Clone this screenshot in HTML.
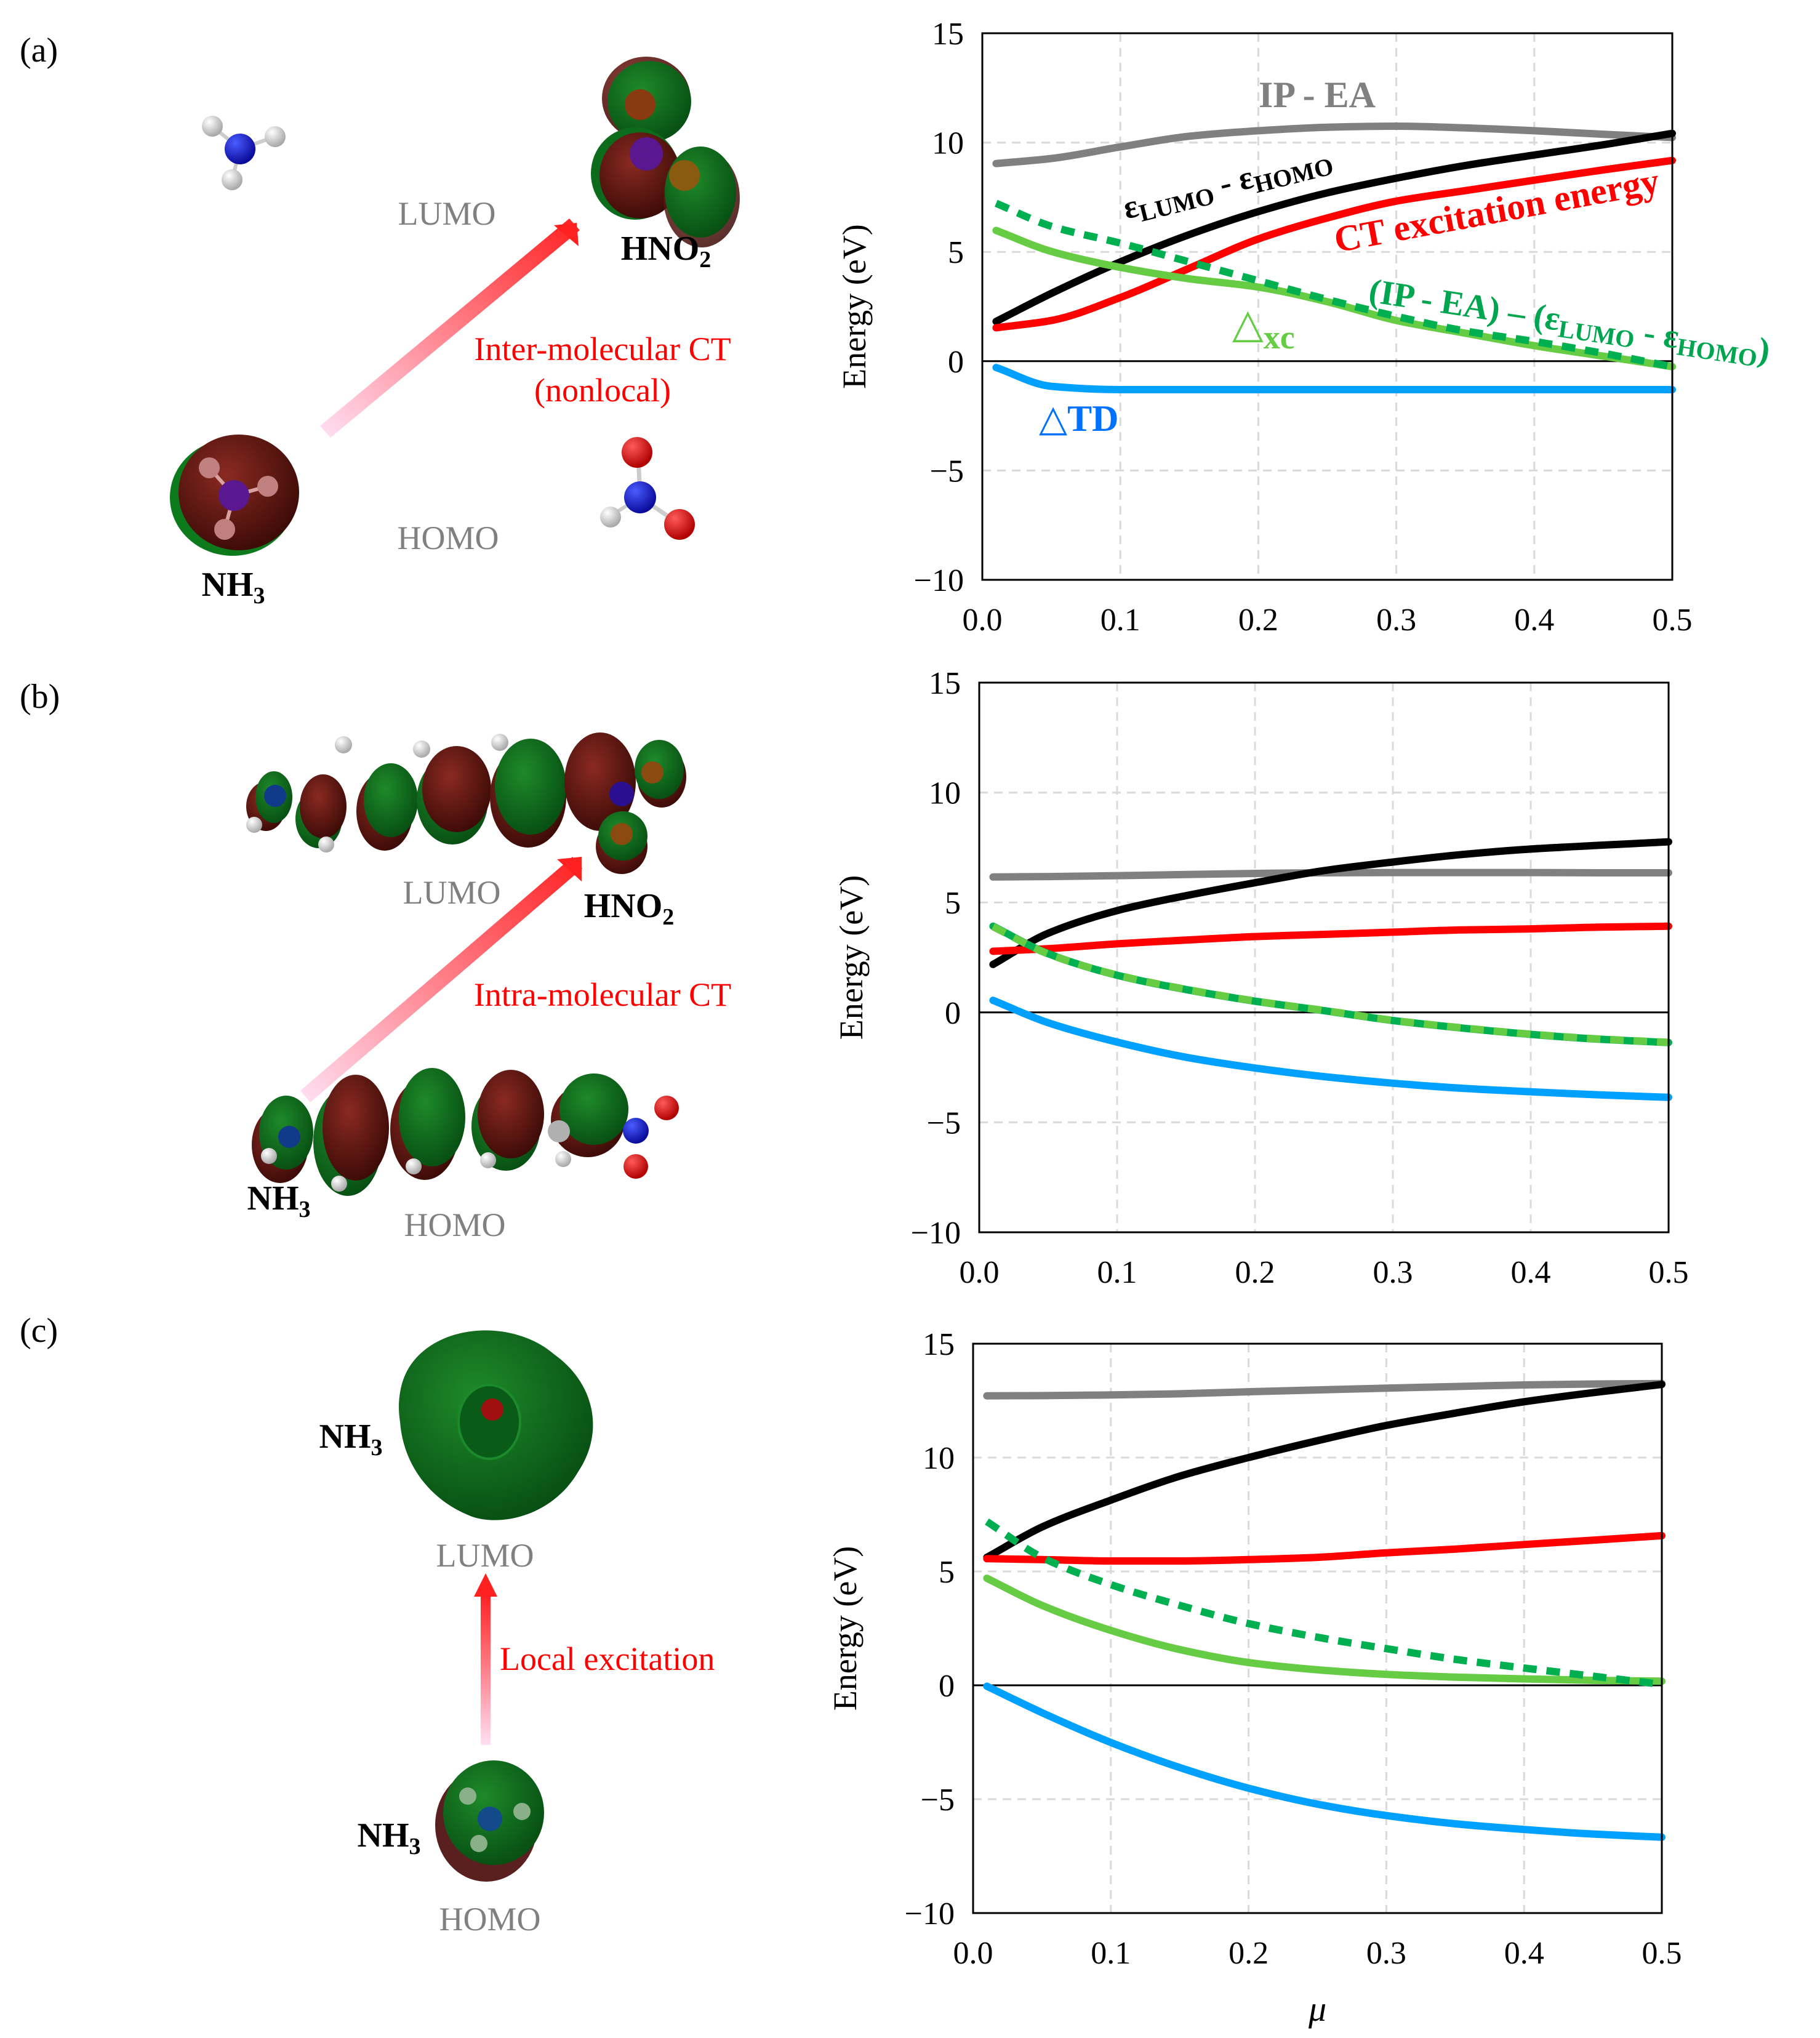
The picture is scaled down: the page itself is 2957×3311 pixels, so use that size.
<!DOCTYPE html>
<html><head><meta charset="utf-8"><style>
html,body{margin:0;padding:0;background:#fff;}
svg{display:block;font-family:"Liberation Serif","DejaVu Serif",serif;}
</style></head><body>
<svg id="fig" width="2957" height="3311" viewBox="0 0 2957 3311" xmlns="http://www.w3.org/2000/svg">
<defs>
<linearGradient id="arrA" x1="0" y1="1" x2="1" y2="0"><stop offset="0" stop-color="#ffe0f4"/><stop offset="1" stop-color="#ff2020"/></linearGradient>
<linearGradient id="arrC" x1="0" y1="1" x2="0" y2="0"><stop offset="0" stop-color="#ffe0f4"/><stop offset="1" stop-color="#ff2020"/></linearGradient>
<radialGradient id="gG" cx="0.4" cy="0.35" r="0.7"><stop offset="0" stop-color="#1f8a2a"/><stop offset="1" stop-color="#064d12"/></radialGradient>
<radialGradient id="gR" cx="0.4" cy="0.35" r="0.7"><stop offset="0" stop-color="#8a2a22"/><stop offset="1" stop-color="#3a0a06"/></radialGradient>
<radialGradient id="gB" cx="0.35" cy="0.3" r="0.7"><stop offset="0" stop-color="#4a5cff"/><stop offset="1" stop-color="#0a0a9a"/></radialGradient>
<radialGradient id="gO" cx="0.35" cy="0.3" r="0.7"><stop offset="0" stop-color="#ff5a5a"/><stop offset="1" stop-color="#b00000"/></radialGradient>
<radialGradient id="gH" cx="0.35" cy="0.3" r="0.7"><stop offset="0" stop-color="#ffffff"/><stop offset="1" stop-color="#a8a8a8"/></radialGradient>
</defs>

<!-- ===== Panel (a) left ===== -->
<g>
<text x="32" y="100" font-size="56">(a)</text>
<g>
<line x1="390" y1="242" x2="345" y2="205" stroke="#ccc" stroke-width="6"/>
<line x1="390" y1="242" x2="447" y2="222" stroke="#ccc" stroke-width="6"/>
<line x1="390" y1="242" x2="377" y2="292" stroke="#ccc" stroke-width="6"/>
<circle cx="345" cy="205" r="17" fill="url(#gH)"/><circle cx="447" cy="222" r="17" fill="url(#gH)"/><circle cx="377" cy="292" r="17" fill="url(#gH)"/>
<circle cx="390" cy="242" r="25" fill="url(#gB)"/>
</g>
<g>
<ellipse cx="1050" cy="160" rx="72" ry="68" fill="url(#gR)" opacity="0.9"/>
<ellipse cx="1055" cy="165" rx="68" ry="66" fill="url(#gG)"/>
<circle cx="1040" cy="170" r="25" fill="#8a3a10"/>
<ellipse cx="1032" cy="282" rx="72" ry="75" fill="#0d6b1c"/>
<ellipse cx="1040" cy="285" rx="66" ry="70" fill="url(#gR)"/>
<ellipse cx="1140" cy="322" rx="62" ry="80" fill="url(#gR)" opacity="0.85"/>
<ellipse cx="1138" cy="312" rx="58" ry="74" fill="url(#gG)"/>
<circle cx="1112" cy="285" r="25" fill="#8a5a10"/>
<circle cx="1050" cy="250" r="27" fill="#5a1890"/>
</g>
<text x="1082" y="422" font-size="56" font-weight="bold" text-anchor="middle">HNO<tspan font-size="38" dy="12">2</tspan></text>
<text x="726" y="365" font-size="54" fill="#808080" text-anchor="middle">LUMO</text>
<polygon points="520,692 925,355 942,374 537,711" fill="url(#arrA)"/>
<polygon points="937,362 900,366 940,400" fill="#ff2020"/>
<text x="979" y="585" font-size="54" fill="#ff0000" text-anchor="middle">Inter-molecular CT</text>
<text x="979" y="652" font-size="54" fill="#ff0000" text-anchor="middle">(nonlocal)</text>
<g>
<ellipse cx="378" cy="808" rx="102" ry="95" fill="#0d7a1c"/>
<ellipse cx="388" cy="800" rx="98" ry="94" fill="url(#gR)"/>
<line x1="380" y1="805" x2="340" y2="760" stroke="#d9a0a0" stroke-width="6"/>
<line x1="380" y1="805" x2="435" y2="790" stroke="#d9a0a0" stroke-width="6"/>
<line x1="380" y1="805" x2="365" y2="860" stroke="#d9a0a0" stroke-width="6"/>
<circle cx="340" cy="760" r="17" fill="#c08080"/><circle cx="435" cy="790" r="17" fill="#c08080"/><circle cx="365" cy="860" r="17" fill="#c08080"/>
<circle cx="380" cy="805" r="25" fill="#5a1890"/>
</g>
<text x="379" y="968" font-size="56" font-weight="bold" text-anchor="middle">NH<tspan font-size="38" dy="12">3</tspan></text>
<text x="728" y="892" font-size="54" fill="#808080" text-anchor="middle">HOMO</text>
<g>
<line x1="1040" y1="808" x2="1037" y2="740" stroke="#ccc" stroke-width="7"/>
<line x1="1040" y1="808" x2="1102" y2="850" stroke="#ccc" stroke-width="7"/>
<line x1="1040" y1="808" x2="992" y2="838" stroke="#ccc" stroke-width="6"/>
<circle cx="1035" cy="735" r="25" fill="url(#gO)"/><circle cx="1104" cy="852" r="25" fill="url(#gO)"/><circle cx="992" cy="840" r="17" fill="url(#gH)"/>
<circle cx="1040" cy="808" r="26" fill="url(#gB)"/>
</g>
</g>

<!-- ===== Panel (b) left ===== -->
<g>
<text x="32" y="1150" font-size="56">(b)</text>
<g>
<ellipse cx="432" cy="1310" rx="32" ry="40" fill="url(#gR)"/>
<ellipse cx="445" cy="1295" rx="30" ry="42" fill="url(#gG)"/>
<ellipse cx="518" cy="1330" rx="38" ry="48" fill="url(#gG)"/>
<ellipse cx="525" cy="1310" rx="38" ry="52" fill="url(#gR)"/>
<ellipse cx="625" cy="1318" rx="46" ry="64" fill="url(#gR)"/>
<ellipse cx="635" cy="1300" rx="44" ry="60" fill="url(#gG)"/>
<ellipse cx="735" cy="1300" rx="58" ry="72" fill="url(#gG)"/>
<ellipse cx="742" cy="1282" rx="56" ry="70" fill="url(#gR)"/>
<ellipse cx="858" cy="1295" rx="62" ry="82" fill="url(#gR)"/>
<ellipse cx="862" cy="1278" rx="58" ry="78" fill="url(#gG)"/>
<ellipse cx="975" cy="1270" rx="58" ry="80" fill="url(#gR)"/>
<ellipse cx="1075" cy="1262" rx="40" ry="50" fill="url(#gR)"/>
<ellipse cx="1071" cy="1250" rx="40" ry="48" fill="url(#gG)"/>
<ellipse cx="1010" cy="1375" rx="42" ry="45" fill="url(#gR)"/>
<ellipse cx="1012" cy="1358" rx="40" ry="40" fill="url(#gG)"/>
<circle cx="447" cy="1293" r="18" fill="#123a8a"/>
<circle cx="558" cy="1210" r="14" fill="url(#gH)"/><circle cx="685" cy="1217" r="14" fill="url(#gH)"/><circle cx="812" cy="1206" r="14" fill="url(#gH)"/>
<circle cx="530" cy="1372" r="13" fill="url(#gH)"/><circle cx="413" cy="1340" r="13" fill="url(#gH)"/>
<circle cx="1010" cy="1290" r="20" fill="#2a1090"/>
<circle cx="1060" cy="1255" r="18" fill="#8a4a10"/><circle cx="1010" cy="1355" r="18" fill="#8a4a10"/>
</g>
<text x="734" y="1468" font-size="54" fill="#808080" text-anchor="middle">LUMO</text>
<text x="1022" y="1490" font-size="56" font-weight="bold" text-anchor="middle">HNO<tspan font-size="38" dy="12">2</tspan></text>
<polygon points="488,1772 930,1392 946,1411 504,1791" fill="url(#arrA)"/>
<polygon points="945,1392 905,1396 945,1432" fill="#ff2020"/>
<text x="979" y="1634" font-size="54" fill="#ff0000" text-anchor="middle">Intra-molecular CT</text>
<g>
<ellipse cx="455" cy="1860" rx="46" ry="62" fill="url(#gR)"/>
<ellipse cx="465" cy="1840" rx="44" ry="60" fill="url(#gG)"/>
<ellipse cx="565" cy="1855" rx="56" ry="88" fill="url(#gG)"/>
<ellipse cx="578" cy="1832" rx="54" ry="86" fill="url(#gR)"/>
<ellipse cx="690" cy="1835" rx="56" ry="82" fill="url(#gR)"/>
<ellipse cx="702" cy="1815" rx="54" ry="80" fill="url(#gG)"/>
<ellipse cx="822" cy="1830" rx="56" ry="72" fill="url(#gG)"/>
<ellipse cx="830" cy="1810" rx="54" ry="72" fill="url(#gR)"/>
<ellipse cx="955" cy="1820" rx="60" ry="60" fill="url(#gR)"/>
<ellipse cx="965" cy="1802" rx="56" ry="58" fill="url(#gG)"/>
<circle cx="470" cy="1847" r="18" fill="#123a8a"/>
<circle cx="908" cy="1838" r="18" fill="#b0b0b0"/>
<circle cx="437" cy="1878" r="13" fill="url(#gH)"/><circle cx="551" cy="1923" r="13" fill="url(#gH)"/><circle cx="672" cy="1895" r="13" fill="url(#gH)"/><circle cx="793" cy="1885" r="13" fill="url(#gH)"/><circle cx="915" cy="1883" r="13" fill="url(#gH)"/>
<circle cx="1033" cy="1837" r="21" fill="url(#gB)"/>
<circle cx="1083" cy="1800" r="20" fill="url(#gO)"/><circle cx="1033" cy="1895" r="20" fill="url(#gO)"/>
</g>
<text x="453" y="1965" font-size="56" font-weight="bold" text-anchor="middle">NH<tspan font-size="38" dy="12">3</tspan></text>
<text x="739" y="2008" font-size="54" fill="#808080" text-anchor="middle">HOMO</text>
</g>

<!-- ===== Panel (c) left ===== -->
<g>
<text x="32" y="2180" font-size="56">(c)</text>
<g>
<path d="M660,2230 C700,2150 830,2140 900,2200 C970,2250 980,2330 940,2390 C900,2460 820,2480 770,2465 C700,2440 655,2380 650,2310 C645,2280 650,2250 660,2230 Z" fill="url(#gG)"/>
<ellipse cx="795" cy="2310" rx="50" ry="60" fill="#0a5a18" stroke="#1a8a2a" stroke-width="4"/>
<circle cx="800" cy="2290" r="18" fill="#a01010"/>
</g>
<text x="570" y="2352" font-size="56" font-weight="bold" text-anchor="middle">NH<tspan font-size="38" dy="12">3</tspan></text>
<text x="788" y="2545" font-size="54" fill="#808080" text-anchor="middle">LUMO</text>
<rect x="781" y="2590" width="16" height="245" fill="url(#arrC)"/>
<polygon points="770,2594 808,2594 789,2556" fill="#ff2020"/>
<text x="812" y="2713" font-size="54" fill="#ff0000">Local excitation</text>
<g>
<ellipse cx="790" cy="2965" rx="83" ry="92" fill="#5a2020"/>
<ellipse cx="802" cy="2945" rx="82" ry="85" fill="url(#gG)"/>
<circle cx="796" cy="2955" r="20" fill="#124a8a"/>
<circle cx="760" cy="2918" r="14" fill="#8ab08a"/><circle cx="848" cy="2943" r="14" fill="#8ab08a"/><circle cx="778" cy="2995" r="14" fill="#8ab08a"/>
</g>
<text x="632" y="3000" font-size="56" font-weight="bold" text-anchor="middle">NH<tspan font-size="38" dy="12">3</tspan></text>
<text x="796" y="3136" font-size="54" fill="#808080" text-anchor="middle">HOMO</text>
</g>

<g id="charts"></g>

<!-- annotations panel a -->
<g>
<text x="2140" y="174" font-size="60" font-weight="bold" fill="#808080" text-anchor="middle">IP - EA</text>
<text x="1830" y="356" font-size="54" font-weight="bold" fill="#000" transform="rotate(-14 1830 356)">ε<tspan font-size="40" dy="10">LUMO</tspan><tspan dy="-10"> - ε</tspan><tspan font-size="40" dy="10">HOMO</tspan></text>
<text x="2172" y="410" font-size="60" font-weight="bold" fill="#ff0000" transform="rotate(-10.5 2172 410)">CT excitation energy</text>
<text x="2222" y="490" font-size="56" font-weight="bold" fill="#00a550" transform="rotate(8.6 2222 490)">(IP - EA) – (ε<tspan font-size="40" dy="10">LUMO</tspan><tspan dy="-10"> - ε</tspan><tspan font-size="40" dy="10">HOMO</tspan><tspan dy="-10">)</tspan></text>
<text x="2002" y="548" font-size="66" font-weight="bold" fill="#66cc44">△<tspan font-size="54" dy="18">xc</tspan></text>
<text x="1688" y="700" font-size="60" font-weight="bold" fill="#0070ff">△TD</text>
</g>
</svg>

<script>
// ---- shared x grid ----
const muValues = [0.01,0.05,0.1,0.15,0.2,0.25,0.3,0.35,0.4,0.45,0.5];
const xTicks = ["0.0","0.1","0.2","0.3","0.4","0.5"];
const yTicks = ["15","10","5","0","−5","−10"];
const yTickValues = [15,10,5,0,-5,-10];
const xTickValues = [0,0.1,0.2,0.3,0.4,0.5];

// ---- panel a ----
const aIpEa   = [9.04,9.27,9.8,10.29,10.54,10.7,10.75,10.67,10.54,10.38,10.23];
const aGap    = [1.82,3.1,4.54,5.79,6.84,7.7,8.37,8.95,9.43,9.9,10.42];
const aCT     = [1.53,1.86,2.91,4.25,5.59,6.55,7.32,7.8,8.28,8.75,9.18];
const aDiff   = [7.22,6.17,5.4,4.54,3.68,2.82,2.05,1.38,0.9,0.36,-0.25];
const aXC     = [5.98,5.02,4.29,3.77,3.39,2.72,1.86,1.28,0.71,0.23,-0.25];
const aTD     = [-0.29,-1.15,-1.3,-1.3,-1.3,-1.3,-1.3,-1.3,-1.3,-1.3,-1.3];
// ---- panel b ----
const bIpEa   = [6.16,6.18,6.22,6.27,6.32,6.35,6.36,6.36,6.36,6.35,6.35];
const bGap    = [2.18,3.6,4.63,5.31,5.9,6.45,6.84,7.18,7.43,7.6,7.76];
const bCT     = [2.78,2.9,3.12,3.29,3.45,3.55,3.65,3.75,3.8,3.88,3.92];
const bDiff   = [3.92,2.67,1.69,1.04,0.51,0.08,-0.37,-0.71,-1.0,-1.22,-1.37];
const bXC     = [3.9,2.66,1.7,1.05,0.52,0.09,-0.36,-0.7,-0.99,-1.21,-1.36];
const bTD     = [0.55,-0.47,-1.35,-2.04,-2.53,-2.92,-3.22,-3.45,-3.61,-3.75,-3.86];
// ---- panel c ----
const cIpEa   = [12.71,12.72,12.75,12.8,12.89,12.97,13.05,13.12,13.19,13.23,13.25];
const cGap    = [5.62,6.95,8.13,9.18,10.0,10.74,11.41,11.95,12.45,12.85,13.21];
const cCT     = [5.56,5.52,5.46,5.46,5.52,5.62,5.82,5.98,6.18,6.37,6.57];
const cDiff   = [7.19,5.62,4.42,3.51,2.71,2.11,1.61,1.14,0.76,0.4,0.04];
const cXC     = [4.7,3.51,2.41,1.57,1.0,0.68,0.48,0.36,0.28,0.22,0.18];
const cTD     = [-0.04,-1.2,-2.51,-3.61,-4.52,-5.22,-5.72,-6.08,-6.33,-6.53,-6.67];

const NS = "http://www.w3.org/2000/svg";
const root = document.getElementById('charts');
function mk(tag, attrs, parent){
  const e = document.createElementNS(NS, tag);
  for (const k in attrs) e.setAttribute(k, attrs[k]);
  parent.appendChild(e);
  return e;
}
// monotone cubic (Fritsch–Carlson) in x
function smoothPath(pts){
  const n = pts.length;
  const dx = [], m = [], t = new Array(n);
  for (let i=0;i<n-1;i++){ dx.push(pts[i+1][0]-pts[i][0]); m.push((pts[i+1][1]-pts[i][1])/dx[i]); }
  t[0] = m[0]; t[n-1] = m[n-2];
  for (let i=1;i<n-1;i++){
    if (m[i-1]*m[i] <= 0) t[i] = 0;
    else { const w1 = 2*dx[i]+dx[i-1], w2 = dx[i]+2*dx[i-1]; t[i] = (w1+w2)/(w1/m[i-1]+w2/m[i]); }
  }
  let d = "M" + pts[0][0].toFixed(1) + "," + pts[0][1].toFixed(1);
  for (let i=0;i<n-1;i++){
    const h = dx[i]/3;
    d += " C"+(pts[i][0]+h).toFixed(1)+","+(pts[i][1]+t[i]*h).toFixed(1)+" "+(pts[i+1][0]-h).toFixed(1)+","+(pts[i+1][1]-t[i+1]*h).toFixed(1)+" "+pts[i+1][0].toFixed(1)+","+pts[i+1][1].toFixed(1);
  }
  return d;
}
function drawPanel(id, L, R, T, B, series, showXTitle){
  const g = mk('g', {}, root);
  
  
  const xs = v => L + (v - 0) / 0.5 * (R - L);
  const ys = v => T + (15 - v) / 25 * (B - T);
  xTickValues.forEach((v,i) => {
    if (i===0 || i===xTickValues.length-1) return;
    const l = mk('line', {x1:xs(v), x2:xs(v), y1:T, y2:B, stroke:'#d9d9d9', 'stroke-width':3, 'stroke-dasharray':'14 10'}, g);
    
    
  });
  yTickValues.forEach((v,i) => {
    if (v===15 || v===-10 || v===0) return;
    const l = mk('line', {x1:L, x2:R, y1:ys(v), y2:ys(v), stroke:'#d9d9d9', 'stroke-width':3, 'stroke-dasharray':'14 10'}, g);
    
    
  });
  const z = mk('line', {x1:L, x2:R, y1:ys(0), y2:ys(0), stroke:'#000', 'stroke-width':3}, g);
  
  
  series.forEach(s => {
    const pts = s.data.map((v,i) => [xs(muValues[i]), ys(v)]);
    const attrs = {d:smoothPath(pts), fill:'none', stroke:s.color, 'stroke-width':12, 'stroke-linecap':'round', 'stroke-linejoin':'round'};
    if (s.dash) { attrs['stroke-dasharray'] = '22 16'; attrs['stroke-linecap'] = 'butt'; }
    const p = mk('path', attrs, g);
    
    
  });
  const fr = mk('rect', {x:L, y:T, width:R-L, height:B-T, fill:'none', stroke:'#000', 'stroke-width':3}, g);
  
  
  yTicks.forEach((t,i) => {
    const tx = mk('text', {x:L-30, y:ys(yTickValues[i])+18, 'font-size':52, 'text-anchor':'end'}, g);
    tx.textContent = t;
    
    
  });
  xTicks.forEach((t,i) => {
    const tx = mk('text', {x:xs(xTickValues[i]), y:B+82, 'font-size':52, 'text-anchor':'middle'}, g);
    tx.textContent = t;
    
    
  });
  const cy = (T+B)/2;
  const yt = mk('text', {x:0, y:0, 'font-size':54, 'text-anchor':'middle', transform:'translate('+(L-190)+','+cy+') rotate(-90)'}, g);
  yt.textContent = 'Energy (eV)';
  
  
  if (showXTitle){
    const xt = mk('text', {x:(L+R)/2, y:B+175, 'font-size':58, 'font-style':'italic', 'text-anchor':'middle'}, g);
    xt.textContent = 'μ';
    
    
  }
}
const colors = {ip:'#808080', gap:'#000000', ct:'#ff0000', diff:'#00b050', xc:'#66cc44', td:'#00a0ff'};
drawPanel('a', 1596, 2717, 54, 942, [
  {name:'ip-ea', data:aIpEa, color:colors.ip},
  {name:'gap', data:aGap, color:colors.gap},
  {name:'ct', data:aCT, color:colors.ct},
  {name:'delta-xc', data:aXC, color:colors.xc},
  {name:'difference', data:aDiff, color:colors.diff, dash:true},
  {name:'delta-td', data:aTD, color:colors.td}
], false);
drawPanel('b', 1591, 2711, 1109, 2002, [
  {name:'ip-ea', data:bIpEa, color:colors.ip},
  {name:'gap', data:bGap, color:colors.gap},
  {name:'ct', data:bCT, color:colors.ct},
  {name:'difference', data:bDiff, color:colors.diff},
  {name:'delta-xc', data:bXC, color:colors.xc, dash:true},
  {name:'delta-td', data:bTD, color:colors.td}
], false);
drawPanel('c', 1581, 2700, 2183, 3108, [
  {name:'ip-ea', data:cIpEa, color:colors.ip},
  {name:'gap', data:cGap, color:colors.gap},
  {name:'ct', data:cCT, color:colors.ct},
  {name:'delta-xc', data:cXC, color:colors.xc},
  {name:'difference', data:cDiff, color:colors.diff, dash:true},
  {name:'delta-td', data:cTD, color:colors.td}
], true);
</script>
</body></html>
